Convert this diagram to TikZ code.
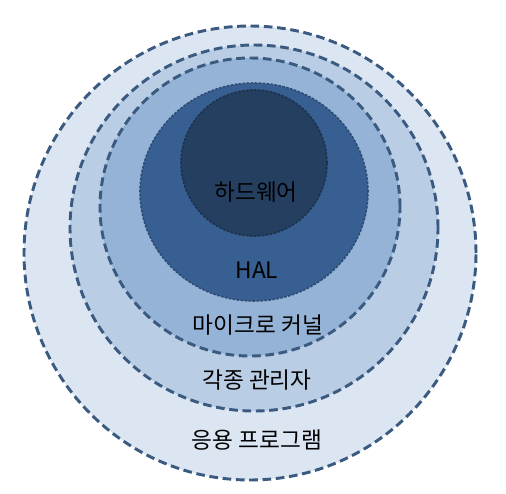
\documentclass[tikz,border=0pt]{standalone}
\usepackage{fontspec}
\setmainfont{Noto Sans CJK KR}
\usetikzlibrary{shapes.geometric}
\definecolor{ringA}{HTML}{DCE6F2}
\definecolor{ringB}{HTML}{B9CDE5}
\definecolor{ringC}{HTML}{95B3D7}
\definecolor{ringD}{HTML}{375F91}
\definecolor{ringE}{HTML}{243F60}
\definecolor{rimline}{HTML}{3A5A80}
\tikzset{
  ring/.style={ellipse, draw=rimline, line width=2.2pt, dash pattern=on 6.5pt off 3.5pt, inner sep=0pt},
  core/.style={ellipse, draw=#1!80!black, line width=1.2pt, dash pattern=on 2pt off 1pt, inner sep=0pt},
  label/.style={font=\fontsize{17}{20}\selectfont, text=black, inner sep=0pt}
}
\begin{document}
\begin{tikzpicture}[x=0.75pt, y=-0.75pt]
\useasboundingbox (0,0) rectangle (506,493);
% rings, outer to inner
\node[ring, fill=ringA, minimum width=452*0.75pt, minimum height=454*0.75pt] (app) at (250,253) {};
\node[ring, fill=ringB, minimum width=368*0.75pt, minimum height=366*0.75pt] (mgr) at (254,228) {};
\node[ring, fill=ringC, minimum width=300*0.75pt, minimum height=298*0.75pt] (kern) at (250,207) {};
\node[core=ringD, fill=ringD, minimum width=228*0.75pt, minimum height=218*0.75pt] (hal) at (254,192) {};
\node[core=ringE, fill=ringE, minimum width=146*0.75pt, minimum height=146*0.75pt] (hw) at (254,163) {};
% texts
\node[label] (hwtext) at (256,192) {하드웨어};
\node[label] (haltext) at (257,270) {HAL};
\node[label] (kerntext) at (258,325) {마이크로 커널};
\node[label] (mgrtext) at (257,380) {각종 관리자};
\node[label] (apptext) at (257,440) {응용 프로그램};
\end{tikzpicture}
\end{document}
